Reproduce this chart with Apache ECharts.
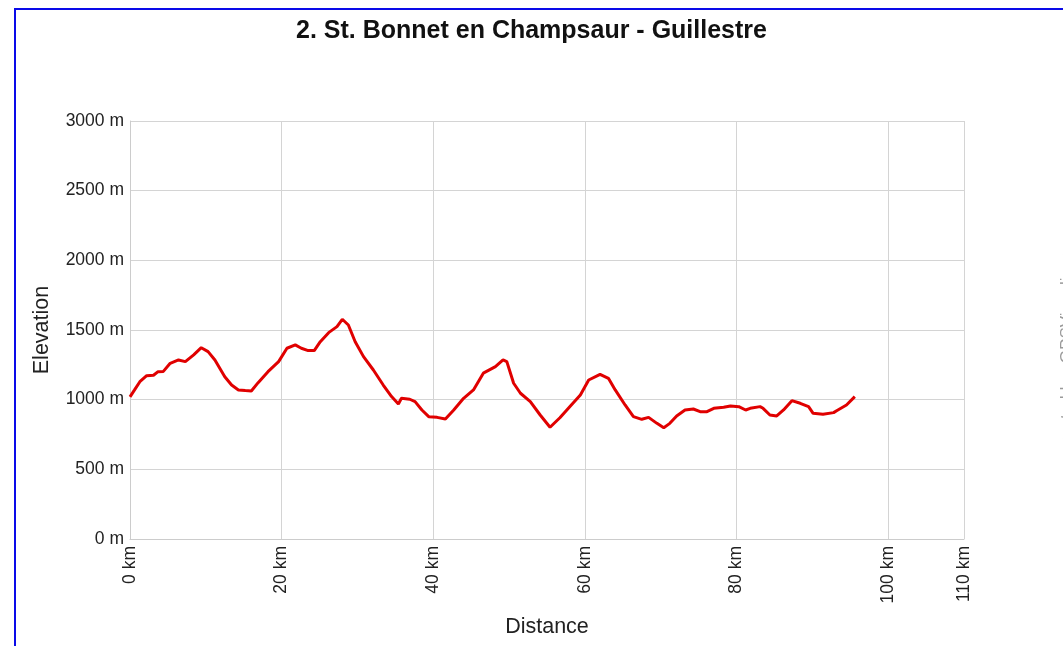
<!DOCTYPE html>
<html>
<head>
<meta charset="utf-8">
<script src="https://cdn.jsdelivr.net/npm/echarts@6/dist/echarts.min.js"></script>
<style>
  html, body { margin:0; padding:0; width:1063px; height:646px; overflow:hidden; background:#fff; }
  #chart { position:absolute; left:0; top:0; width:1063px; height:646px; }
  #frame { position:absolute; left:14px; top:8px; width:1200px; height:800px; border:2.5px solid #0a0ae8; pointer-events:none; }
</style>
</head>
<body>
<div id="chart"></div>
<div id="frame"></div>
<script>
const titleText = "2. St. Bonnet en Champsaur - Guillestre";
const creditText = "created by: GPSVisualizer.com";
const distanceKm = [0, 0.6, 1.3, 2.2, 3.1, 3.7, 4.4, 5.3, 6.4, 7.3, 8.4, 9.4, 10.3, 11.2, 12.5, 13.4, 14.3, 15.2, 16.0, 16.9, 18.2, 19.6, 20.7, 21.8, 22.6, 23.5, 24.3, 25.1, 26.2, 27.3, 28.0, 28.8, 29.7, 30.8, 32.1, 33.4, 34.5, 35.4, 35.8, 36.9, 37.6, 38.5, 39.4, 40.5, 41.6, 42.7, 44.0, 45.3, 46.6, 48.2, 49.2, 49.7, 50.6, 51.5, 52.8, 54.1, 55.4, 56.7, 58.0, 59.4, 60.5, 62.0, 63.1, 64.0, 65.3, 66.4, 67.5, 68.4, 69.5, 70.4, 71.2, 72.1, 73.2, 74.3, 75.2, 76.1, 77.0, 78.3, 79.2, 80.3, 81.2, 81.8, 83.1, 83.5, 84.4, 85.3, 86.2, 87.3, 88.4, 89.5, 90.1, 91.4, 92.8, 93.2, 94.5, 95.6];
const elevationM = [1020, 1070, 1129, 1172, 1175, 1201, 1203, 1261, 1285, 1273, 1321, 1373, 1345, 1285, 1165, 1105, 1070, 1065, 1062, 1122, 1201, 1273, 1369, 1393, 1369, 1352, 1352, 1416, 1481, 1524, 1577, 1536, 1416, 1309, 1213, 1105, 1022, 969, 1010, 1003, 986, 926, 878, 873, 861, 926, 1010, 1070, 1190, 1237, 1285, 1273, 1118, 1046, 986, 890, 802, 870, 950, 1034, 1141, 1182, 1153, 1070, 962, 878, 859, 873, 830, 799, 830, 883, 926, 933, 914, 914, 938, 945, 955, 950, 926, 938, 950, 938, 890, 883, 926, 993, 974, 950, 902, 895, 907, 921, 962, 1022];
const xTicks = { min: 0, max: 110, interval: 20, unit: " km" };
const yTicks = { min: 0, max: 3000, interval: 500, unit: " m" };

const points = distanceKm.map((d, i) => [d, elevationM[i]]);
const chart = echarts.init(document.getElementById('chart'), null, { renderer: 'canvas' });
const font = '"Liberation Sans", Arial, sans-serif';
chart.setOption({
  animation: false,
  backgroundColor: '#fff',
  title: {
    text: titleText, left: 'center', top: 14,
    textStyle: { fontFamily: font, fontSize: 25, fontWeight: 'bold', color: '#111' }
  },
  graphic: [{
    type: 'text', x: 1067, y: 335, rotation: Math.PI / 2,
    style: { text: creditText, fill: '#9a9a9a', font: '17px ' + font, align: 'center', verticalAlign: 'middle' }
  }],
  grid: { left: 130, right: 99, top: 121, bottom: 107, containLabel: false },
  xAxis: {
    type: 'value', min: xTicks.min, max: xTicks.max, interval: xTicks.interval,
    name: 'Distance', nameLocation: 'middle', nameGap: 77,
    nameTextStyle: { fontFamily: font, fontSize: 21.5, color: '#222' },
    axisLine: { show: true, lineStyle: { color: '#cccccc', width: 1 } },
    axisTick: { show: false },
    splitLine: { show: true, lineStyle: { color: '#d4d4d4', width: 1 } },
    axisLabel: { rotate: 90, formatter: v => v + xTicks.unit, fontFamily: font, fontSize: 17.5, color: '#222', margin: 7, showMaxLabel: true }
  },
  yAxis: {
    type: 'value', min: yTicks.min, max: yTicks.max, interval: yTicks.interval,
    name: 'Elevation', nameLocation: 'middle', nameGap: 77,
    nameTextStyle: { fontFamily: font, fontSize: 21.5, color: '#222' },
    axisLine: { show: true, lineStyle: { color: '#cccccc', width: 1 } },
    axisTick: { show: false },
    splitLine: { show: true, lineStyle: { color: '#d4d4d4', width: 1 } },
    axisLabel: { formatter: v => v + yTicks.unit, fontFamily: font, fontSize: 17.5, color: '#222', margin: 6 }
  },
  series: [{
    type: 'line', data: points, showSymbol: false, smooth: false,
    lineStyle: { color: '#e00000', width: 3 }, z: 5
  }]
});
</script>
</body>
</html>
